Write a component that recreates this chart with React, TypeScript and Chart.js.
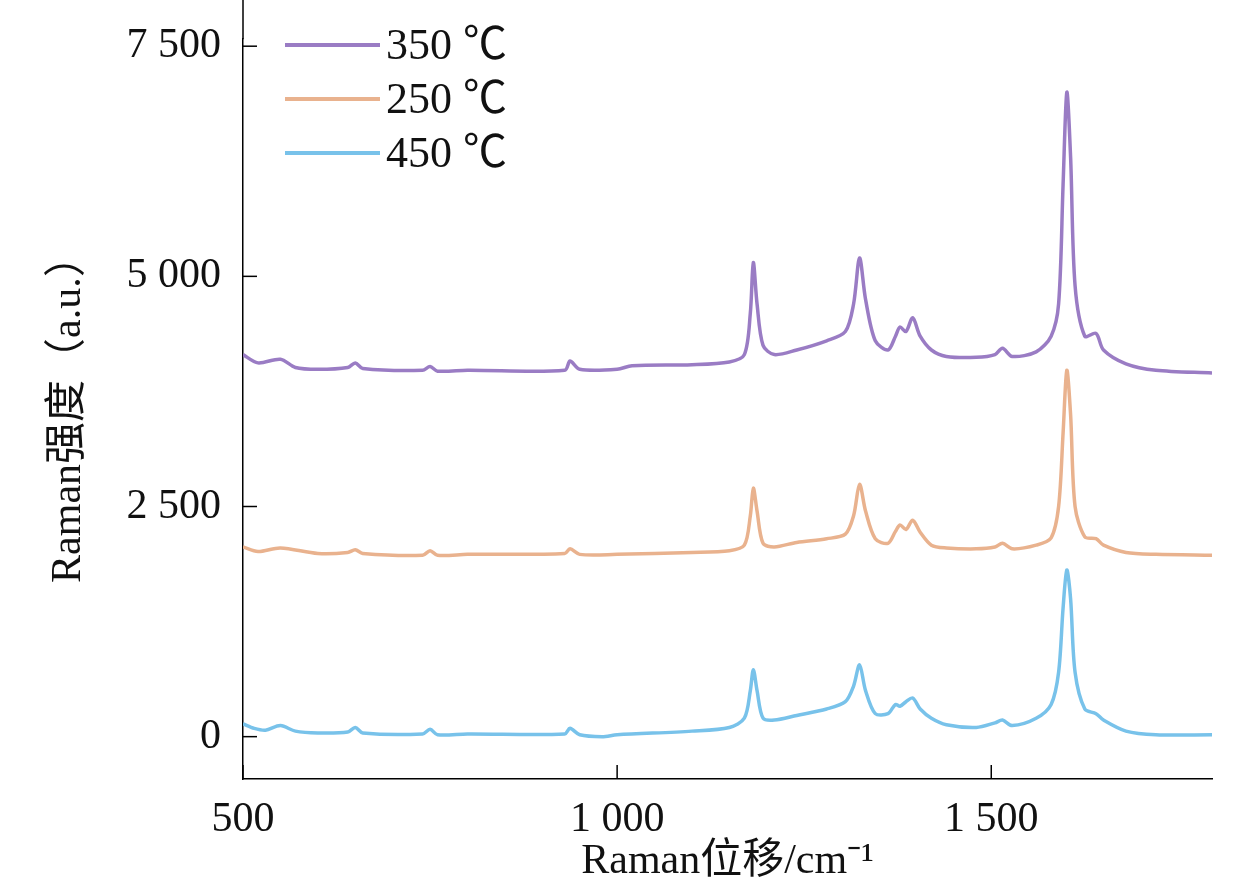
import React, { useEffect, useRef } from "react";
import { Chart, registerables } from "chart.js";
Chart.register(...registerables);

const labels350 = "350 ℃", labels250 = "250 ℃", labels450 = "450 ℃";
const xTicks = [500, 1000, 1500];
const yTicks = [0, 2500, 5000, 7500];

const x350 = [500,520,550,570,600,640,650,660,740,750,760,800,930,937,950,1000,1020,1100,1150,1170,1178,1182,1187,1195,1210,1240,1280,1305,1316,1324,1332,1345,1362,1372,1378,1386,1395,1405,1420,1440,1480,1505,1515,1528,1560,1580,1590,1596,1601,1606,1612,1625,1640,1650,1680,1720,1795];
const y350 = [4150,4060,4100,4010,3990,4010,4060,4000,3980,4020,3970,3980,3980,4080,3990,3990,4030,4040,4070,4150,4600,5150,4700,4250,4150,4200,4300,4400,4700,5200,4750,4300,4200,4350,4450,4400,4550,4350,4200,4130,4120,4150,4220,4130,4180,4350,4700,6000,7000,6300,4900,4350,4380,4200,4050,3980,3950];

const x250 = [500,520,550,600,640,650,660,740,750,760,800,930,937,950,1000,1100,1150,1170,1178,1182,1187,1195,1210,1240,1280,1305,1316,1324,1332,1345,1362,1372,1378,1386,1395,1405,1420,1440,1480,1505,1515,1528,1560,1580,1590,1596,1601,1606,1612,1625,1640,1650,1680,1720,1795];
const y250 = [2060,2010,2050,1990,2000,2030,1990,1970,2020,1970,1980,1990,2040,1980,1980,2000,2020,2080,2400,2700,2450,2100,2060,2110,2150,2200,2400,2740,2450,2150,2100,2230,2300,2250,2350,2220,2080,2050,2040,2060,2100,2040,2080,2160,2500,3300,3980,3500,2500,2170,2150,2080,2000,1980,1970];

const x450 = [500,515,530,550,570,600,640,650,660,740,750,760,800,930,937,950,980,1000,1100,1150,1170,1178,1182,1187,1195,1210,1240,1280,1305,1316,1324,1332,1345,1362,1372,1378,1386,1395,1405,1420,1440,1480,1505,1515,1528,1560,1580,1590,1596,1601,1606,1612,1625,1640,1650,1680,1720,1795];
const y450 = [140,90,70,120,60,40,50,100,40,30,80,20,30,30,90,20,0,20,60,100,200,500,727,500,200,180,230,300,380,550,780,500,250,250,350,330,380,420,300,200,130,100,150,180,120,200,350,700,1400,1811,1500,700,300,250,180,60,20,20];

const purple = "#9a7cc4", orange = "#e9b28e", blue = "#78c2ea";
const pts = (xs: number[], ys: number[]) => xs.map((x, i) => ({ x, y: ys[i] }));
const fmt = (v: number) => String(v).replace(/\B(?=(\d{3})+(?!\d))/g, " ");
const FONT = "'Liberation Serif', 'Noto Sans CJK SC', serif";

const inwardTicks = {
  id: "inwardTicks",
  afterDraw(chart: any) {
    const { ctx, chartArea: a, scales } = chart;
    ctx.save();
    ctx.strokeStyle = "#000";
    ctx.lineWidth = 1.5;
    ctx.beginPath(); ctx.moveTo(a.left, 0); ctx.lineTo(a.left, a.top); ctx.stroke();
    yTicks.forEach((t) => {
      const y = scales.y.getPixelForValue(t);
      ctx.beginPath(); ctx.moveTo(a.left, y); ctx.lineTo(a.left + 14, y); ctx.stroke();
    });
    xTicks.forEach((t) => {
      const x = scales.x.getPixelForValue(t);
      ctx.beginPath(); ctx.moveTo(x, a.bottom); ctx.lineTo(x, a.bottom - 14); ctx.stroke();
    });
    ctx.font = `44px ${FONT}`;
    ctx.textBaseline = "middle";
    chart.data.datasets.forEach((d: any, i: number) => {
      const y = 45 + i * 54;
      ctx.strokeStyle = d.borderColor;
      ctx.lineWidth = 4;
      ctx.beginPath(); ctx.moveTo(285, y); ctx.lineTo(380, y); ctx.stroke();
      ctx.fillStyle = "#111";
      ctx.fillText(d.label, 386, y + 2);
    });
    ctx.restore();
  },
};

export default function App() {
  const ref = useRef<HTMLCanvasElement>(null);
  useEffect(() => {
    const chart = new Chart(ref.current!, {
      type: "line",
      data: {
        datasets: [
          { label: labels350, data: pts(x350, y350), borderColor: purple, borderWidth: 3.5, pointRadius: 0, tension: 0.3 },
          { label: labels250, data: pts(x250, y250), borderColor: orange, borderWidth: 3.5, pointRadius: 0, tension: 0.3 },
          { label: labels450, data: pts(x450, y450), borderColor: blue, borderWidth: 3.5, pointRadius: 0, tension: 0.3 },
        ],
      },
      options: {
        animation: false,
        responsive: false,
        layout: { padding: { top: 0, right: 47, left: 40, bottom: 0 } },
        plugins: { legend: { display: false }, tooltip: { enabled: false } },
        scales: {
          x: {
            type: "linear", min: 500, max: 1795,
            afterBuildTicks: (s: any) => { s.ticks = xTicks.map((v) => ({ value: v })); },
            afterFit: (s: any) => { s.height = 112; },
            grid: { display: false },
            border: { display: true, color: "#000", width: 1.5 },
            ticks: { color: "#111", font: { family: FONT, size: 42 }, padding: 8, callback: (v: any) => fmt(v), maxRotation: 0 },
            title: { display: true, text: "Raman位移/cm⁻¹", color: "#111", font: { family: FONT, size: 42 }, padding: { top: -6 } },
          },
          y: {
            type: "linear", min: -460, max: 7576,
            afterBuildTicks: (s: any) => { s.ticks = yTicks.map((v) => ({ value: v })); },
            afterFit: (s: any) => { s.width = 203; },
            grid: { display: false },
            border: { display: true, color: "#000", width: 1.5 },
            ticks: { color: "#111", font: { family: FONT, size: 42 }, padding: 14, callback: (v: any) => fmt(v) },
            title: { display: true, text: "Raman强度（a.u.）", color: "#111", font: { family: FONT, size: 42 }, padding: { bottom: 0 } },
          },
        },
      },
      plugins: [inwardTicks],
    } as any);
    return () => chart.destroy();
  }, []);
  return (
    <div style={{ position: "absolute", left: 0, top: 0, width: 1259, height: 891, background: "#fff" }}>
      <canvas ref={ref} width={1259} height={891} style={{ width: 1259, height: 891 }} />
    </div>
  );
}
